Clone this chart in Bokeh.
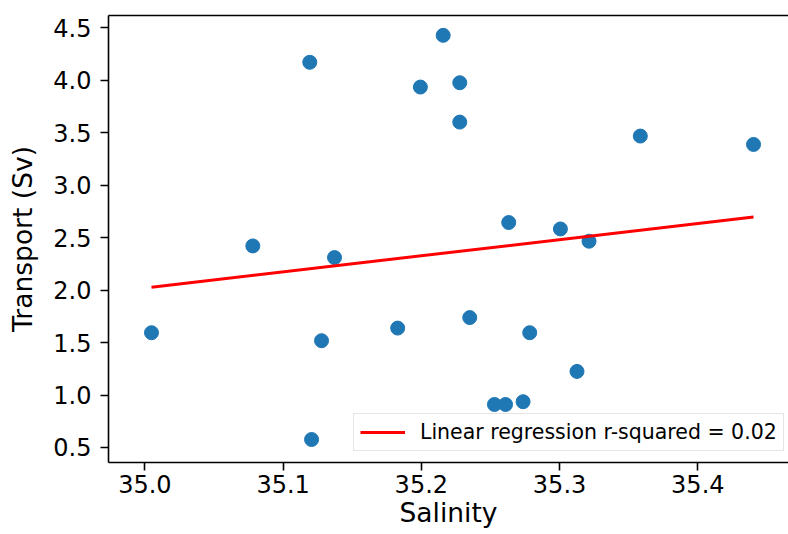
import numpy as np
from bokeh.plotting import figure
from bokeh.models import (ColumnDataSource, FixedTicker, PrintfTickFormatter,
                          LinearAxis, Legend, LegendItem, Range1d)
from bokeh.embed import file_html
from bokeh.resources import INLINE

# ---- data ----
salinity = [35.0048, 35.0781, 35.1193, 35.1206, 35.1278, 35.1372, 35.1829,
            35.1993, 35.2158, 35.2278, 35.2278, 35.2350, 35.2529, 35.2609,
            35.2632, 35.2736, 35.2784, 35.3006, 35.3126, 35.3213, 35.3584,
            35.4403]
transport = [1.594, 2.421, 4.171, 0.576, 1.518, 2.310, 1.638,
             3.935, 4.428, 3.976, 3.601, 1.738, 0.910, 0.910,
             2.644, 0.936, 1.594, 2.583, 1.225, 2.466, 3.468,
             3.388]
x_ticks = [35.0, 35.1, 35.2, 35.3, 35.4]
y_ticks = [0.5, 1.0, 1.5, 2.0, 2.5, 3.0, 3.5, 4.0, 4.5]
legend_label = "Linear regression r-squared = 0.02"
x_label = "Salinity"
y_label = "Transport (Sv)"

# regression line computed from the data
slope, intercept = np.polyfit(salinity, transport, 1)
fit_x = [min(salinity), max(salinity)]
fit_y = [intercept + slope * v for v in fit_x]

FONT = "DejaVu Sans"

p = figure(width=788, height=534, output_backend="svg", toolbar_location=None,
           x_range=Range1d(34.9737, 35.4656), y_range=Range1d(0.357, 4.617),
           min_border_left=108, min_border_right=0, min_border_top=15,
           min_border_bottom=72)
p.outline_line_color = None
p.xgrid.visible = False
p.ygrid.visible = False
p.background_fill_color = "white"
p.border_fill_color = "white"

xax = p.below[0]
yax = p.left[0]

for ax in (xax, yax):
    ax.axis_line_color = "black"
    ax.axis_line_width = 1.6
    ax.major_tick_line_color = "black"
    ax.major_tick_line_width = 1.6
    ax.major_tick_out = 8
    ax.major_tick_in = 0
    ax.minor_tick_line_color = None
    ax.major_label_text_font = FONT
    ax.major_label_text_font_size = "24px"
    ax.major_label_text_color = "black"
    ax.axis_label_text_font = FONT
    ax.axis_label_text_font_size = "26.5px"
    ax.axis_label_text_font_style = "normal"
    ax.axis_label_text_color = "black"
    ax.formatter = PrintfTickFormatter(format="%.1f")

xax.ticker = FixedTicker(ticks=x_ticks)
yax.ticker = FixedTicker(ticks=y_ticks)
xax.axis_label = x_label
yax.axis_label = y_label
xax.major_label_standoff = 4
xax.axis_label_standoff = 1
yax.major_label_standoff = 9
yax.axis_label_standoff = 12

# top spine
top = LinearAxis(major_tick_line_color=None, minor_tick_line_color=None,
                 major_label_text_font_size="0px", major_label_standoff=0,
                 axis_line_color="black", axis_line_width=1.6,
                 ticker=FixedTicker(ticks=[]))
p.add_layout(top, "above")

src = ColumnDataSource(dict(x=salinity, y=transport))
p.scatter("x", "y", source=src, size=14, fill_color="#1f77b4",
          line_color="#1f77b4")

fit = p.line(fit_x, fit_y, line_color="red", line_width=3)

legend = Legend(items=[LegendItem(label=legend_label, renderers=[fit])],
                location=(245, 11))
legend.label_text_font = FONT
legend.label_text_font_size = "20.5px"
legend.label_text_color = "black"
legend.glyph_width = 45
legend.glyph_height = 22
legend.label_standoff = 15
legend.padding = 6
legend.spacing = 0
legend.margin = 0
legend.border_line_color = "#cccccc"
legend.border_line_width = 1
legend.background_fill_color = "white"
legend.background_fill_alpha = 0.8
p.add_layout(legend)

open("out.html", "w").write(file_html(p, INLINE))
